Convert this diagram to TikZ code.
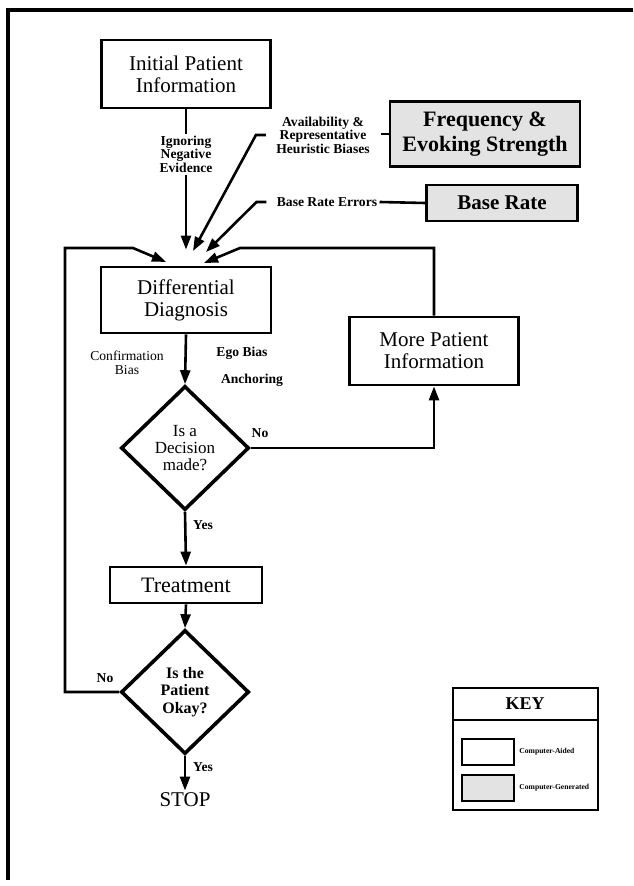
\documentclass[tikz,border=0pt]{standalone}
\usepackage{fontspec}
\setmainfont{Liberation Serif}
\usetikzlibrary{arrows.meta,positioning,shapes.geometric}
\definecolor{dotgray}{gray}{0.89}

\begin{document}
\begin{tikzpicture}[x=0.5pt,y=-0.5pt,every node/.style={font=\fontsize{10.5}{11}\selectfont},
      box/.style={draw,line width=1.4pt,minimum width=84.5pt,minimum height=34pt,
                  align=center,inner sep=1pt},
      genbox/.style={box,fill=dotgray,font=\fontsize{11}{12.5}\selectfont\bfseries},
      query/.style={draw,diamond,aspect=1,line width=1.8pt,minimum width=64pt,
                  minimum height=62pt,inner sep=0pt,align=center,font=\fontsize{8.5}{8.5}\selectfont},
      lbl/.style={font=\fontsize{6.8}{6.8}\selectfont\bfseries,align=center,inner sep=1pt},
      keylbl/.style={font=\fontsize{3.8}{4}\selectfont\bfseries,inner sep=0pt},
      arr/.style={line width=1.3pt,-{Triangle[length=7pt,width=5pt]}},
      wire/.style={line width=1.3pt}]
    \useasboundingbox (0,0) rectangle (633,886);
    \draw[line width=1.6pt] (8,880) -- (8,10) -- (633,10);
    % main column
    \node[box] (init) at (186,74) {Initial Patient\\Information};
    \node[box,minimum width=85pt,minimum height=33pt] (diff) at (186,300) {Differential\\Diagnosis};
    \node[query] (dec) at (185,448) {Is a\\Decision\\made?};
    \node[box,minimum width=76pt,minimum height=18pt,font=\fontsize{11}{12}\selectfont] (treat) at (186,585) {Treatment};
    \node[query,font=\fontsize{8}{8.7}\selectfont\bfseries] (ok) at (185,692) {Is the\\Patient\\Okay?};
    \node[inner sep=1pt] (stop) at (185,800) {STOP};
    \node[box] (more) at (434,351) {More Patient\\Information};
    % computer-generated boxes
    \node[genbox,minimum width=95pt,minimum height=32.5pt] (freq) at (485,134) {Frequency \&\\Evoking Strength};
    \node[genbox,minimum width=75.5pt,minimum height=18pt,font=\fontsize{10.5}{11}\selectfont\bfseries] (brate) at (502,203) {Base Rate};
    % biases
    \node[lbl] (avail) at (323,135) {Availability \&\\Representative\\Heuristic Biases};
    \node[lbl] (brerr) at (327,202) {Base Rate Errors};
    \node[lbl,font=\fontsize{6.8}{6.8}\selectfont] (confb) at (127,363) {Confirmation\\Bias};
    \node[lbl] (ego) at (242,353) {Ego Bias};
    \node[lbl] (anch) at (252,380) {Anchoring};
    \node[lbl] (decno) at (260,433) {No};
    \node[lbl] (decyes) at (203,525) {Yes};
    \node[lbl] (okno) at (105,678) {No};
    \node[lbl] (okyes) at (203,767) {Yes};
    % arrow tips above the diagnosis
    \coordinate (tipA) at (193,251);
    \coordinate (tipB) at (206,252);
    \coordinate (tipL) at (166,262);
    \coordinate (tipR) at (204,263);
    \coordinate (topR) at (240,248);
    \coordinate (topL) at (133,248);
    \coordinate (farL) at (65,248);
    \coordinate (freqstub) at (381,134);
    \draw[arr] (init.south) -- node[lbl,fill=white,pos=0.32] (ignore) {Ignoring\\Negative\\Evidence} ([yshift=8pt]diff.north);
    \draw[wire] (freq.west) -- (freqstub);
    \draw[arr] ([xshift=-4pt]avail.west) -- ++(-10,0) -- (tipA);
    \draw[wire] (brerr.east) -- (brate.west);
    \draw[arr] ([xshift=-4pt]brerr.west) -- ++(-10,0) -- (tipB);
    \draw[arr] (diff.south) -- (dec.north);
    \draw[arr] (dec.east) -| (more.south);
    \draw[arr] (more.north) |- (topR) -- (tipR);
    \draw[arr] (dec.south) -- (treat.north);
    \draw[arr] (treat.south) -- (ok.north);
    \draw[arr] (ok.west) -| (farL) -- (topL) -- (tipL);
    \draw[arr] (ok.south) -- (stop.north);
    % key
    \node[draw,line width=1pt,outer sep=0pt,minimum width=72.5pt,minimum height=16pt,
          font=\fontsize{9}{10}\selectfont\bfseries] (keyhd) at (525,704) {KEY};
    \node[draw,line width=1pt,outer sep=0pt,minimum width=72.5pt,minimum height=45pt,below=0pt of keyhd] (keybd) {};
    \node[draw,line width=1pt,minimum width=26pt,minimum height=13pt] (aidsw) at (488,752) {};
    \node[draw,line width=1pt,fill=dotgray,minimum width=26pt,minimum height=13pt] (gensw) at (488,788) {};
    \node[keylbl,right=2pt of aidsw] (aidlbl) {Computer-Aided};
    \node[keylbl,right=2pt of gensw] (genlbl) {Computer-Generated};
  \end{tikzpicture}
\end{document}
